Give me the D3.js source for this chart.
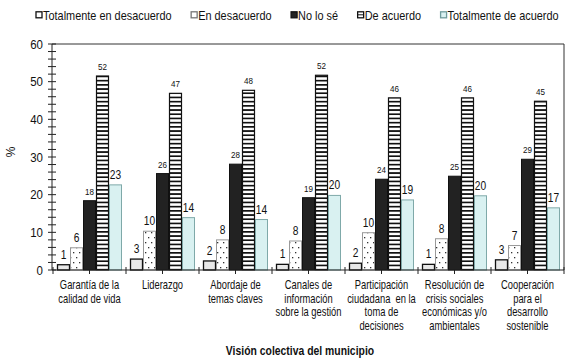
<!DOCTYPE html>
<html><head><meta charset="utf-8">
<script src="https://cdn.jsdelivr.net/npm/d3@7"></script>
<style>
body{margin:0;background:#fff;}
svg text{font-family:"Liberation Sans",Arial,sans-serif;fill:#111;white-space:pre;}
</style></head>
<body><svg id="c" width="580" height="364"></svg>
<script>
const categories = [
  ["Garantía de la","calidad de vida"],
  ["Liderazgo"],
  ["Abordaje de","temas claves"],
  ["Canales de","información","sobre la gestión"],
  ["Participación","ciudadana  en la","toma de","decisiones"],
  ["Resolución de","crisis sociales","económicas y/o","ambientales"],
  ["Cooperación","para el","desarrollo","sostenible"]
];
const seriesNames = ["Totalmente en desacuerdo","En desacuerdo","No lo sé","De acuerdo","Totalmente de acuerdo"];
const totDesacuerdo = [1.4, 2.9, 2.4, 1.5, 1.8, 1.5, 2.7];
const enDesacuerdo  = [5.9, 10.3, 8.0, 7.7, 9.9, 8.3, 6.5];
const noLoSe        = [18.4, 25.6, 28.1, 19.2, 24.1, 24.9, 29.4];
const deAcuerdo     = [51.5, 46.9, 47.7, 51.7, 45.7, 45.7, 44.8];
const totAcuerdo    = [22.6, 13.9, 13.4, 19.8, 18.6, 19.7, 16.5];
const labelsTotDes  = [1, 3, 2, 1, 2, 1, 3];
const labelsEnDes   = [6, 10, 8, 8, 10, 8, 7];
const labelsNoSe    = [18, 26, 28, 19, 24, 25, 29];
const labelsDeAc    = [52, 47, 48, 52, 46, 46, 45];
const labelsTotAc   = [23, 14, 14, 20, 19, 20, 17];
const yTicks = [0, 10, 20, 30, 40, 50, 60];
const xTitle = "Visión colectiva del municipio";
const yTitle = "%";

const series = [totDesacuerdo, enDesacuerdo, noLoSe, deAcuerdo, totAcuerdo];
const labels = [labelsTotDes, labelsEnDes, labelsNoSe, labelsDeAc, labelsTotAc];

const svg = d3.select("#c");
const defs = svg.append("defs");
const pd = defs.append("pattern").attr("id","dots").attr("patternUnits","userSpaceOnUse")
  .attr("width",6).attr("height",10);
pd.append("rect").attr("width",6).attr("height",10).attr("fill","#fff");
pd.append("rect").attr("x",1).attr("y",2).attr("width",1.3).attr("height",1.3).attr("fill","#333");
pd.append("rect").attr("x",4).attr("y",7).attr("width",1.3).attr("height",1.3).attr("fill","#333");
const ps = defs.append("pattern").attr("id","stripes").attr("patternUnits","userSpaceOnUse")
  .attr("width",8).attr("height",4.2);
ps.append("rect").attr("width",8).attr("height",4.2).attr("fill","#fff");
ps.append("rect").attr("y",0).attr("width",8).attr("height",1.7).attr("fill","#111");

const styles = [
  {fill:"#e8e8e8", stroke:"#111", sw:1.3},
  {fill:"url(#dots)", stroke:"#999", sw:1},
  {fill:"#222", stroke:"#111", sw:1},
  {fill:"url(#stripes)", stroke:"#111", sw:1.2},
  {fill:"#d9f1f1", stroke:"#7fa9a9", sw:1}
];
const labelSize = [12, 12, 9.5, 9.5, 12];

const pL = 53, pR = 564, pT = 44, pB = 270;
const y = d3.scaleLinear().domain([0,60]).range([pB, pT]);
const x = d3.scaleBand().domain(d3.range(categories.length)).range([pL, pR]).padding(0);
const xs = d3.scaleBand().domain(d3.range(series.length)).range([4, x.bandwidth()-4]).padding(0);

const tr = (tx, ty, s) => `translate(${tx},${ty}) scale(${s},1)`;

svg.append("line").attr("x1",pL-1).attr("x2",pR).attr("y1",pT).attr("y2",pT).attr("stroke","#333");
svg.append("line").attr("x1",pR).attr("x2",pR).attr("y1",pT).attr("y2",pB).attr("stroke","#333");

series.forEach((vals, s) => {
  const g = svg.append("g");
  g.selectAll("rect").data(vals).join("rect")
    .attr("x",(d,i)=>x(i)+xs(s)+0.5)
    .attr("y",d=>y(d))
    .attr("width",xs.bandwidth()-1)
    .attr("height",d=>pB-y(d))
    .attr("fill",styles[s].fill).attr("stroke",styles[s].stroke).attr("stroke-width",styles[s].sw);
  g.selectAll("text").data(vals).join("text")
    .attr("transform",(d,i)=>tr(x(i)+xs(s)+xs.bandwidth()/2, y(d)-6, 0.85))
    .attr("text-anchor","middle")
    .attr("font-size",labelSize[s])
    .text((d,i)=>labels[s][i]);
});

const yAxis = svg.append("g").attr("transform",`translate(${pL-1},0)`);
yAxis.append("line").attr("y1",pT).attr("y2",pB).attr("stroke","#222");
yAxis.selectAll("line.minor").data(d3.range(0,61,2)).join("line").attr("class","minor")
  .attr("x1",-4).attr("x2",4).attr("y1",d=>y(d)).attr("y2",d=>y(d)).attr("stroke","#222");
yAxis.selectAll("text").data(yTicks).join("text")
  .attr("transform",d=>tr(-9, y(d)+4.7, 0.85)).attr("text-anchor","end").attr("font-size",13.5).text(d=>d);

const xAxis = svg.append("g");
xAxis.append("line").attr("x1",pL-1).attr("x2",pR).attr("y1",pB).attr("y2",pB).attr("stroke","#222");
xAxis.selectAll("line.b").data(d3.range(categories.length+1)).join("line").attr("class","b")
  .attr("x1",d=>pL+d*x.bandwidth()).attr("x2",d=>pL+d*x.bandwidth())
  .attr("y1",pB-3).attr("y2",pB+4).attr("stroke","#222");
xAxis.selectAll("line.c").data(d3.range(categories.length)).join("line").attr("class","c")
  .attr("x1",d=>x(d)+x.bandwidth()/2).attr("x2",d=>x(d)+x.bandwidth()/2)
  .attr("y1",pB).attr("y2",pB+4).attr("stroke","#222");
const cl = xAxis.selectAll("text").data(categories).join("text")
  .attr("text-anchor","middle").attr("font-size",12)
  .attr("transform",(d,i)=>tr(x(i)+x.bandwidth()/2, pB+19, 0.78));
cl.selectAll("tspan").data(d=>d).join("tspan").attr("x",0).attr("dy",(d,j)=>j===0?0:13.6).text(d=>d);

svg.append("text").attr("transform",tr(300,355,0.8)).attr("text-anchor","middle")
  .attr("font-size",13).attr("font-weight","bold").text(xTitle);
svg.append("text").attr("transform","translate(15,152) rotate(-90)").attr("text-anchor","middle")
  .attr("font-size",12).text(yTitle);

const lg = svg.append("g");
let lx = 36;
seriesNames.forEach((n,s) => {
  lg.append("rect").attr("x",lx).attr("y",11.8).attr("width",6).attr("height",6)
    .attr("fill", s===2 ? "#222" : s===4 ? "#d9f1f1" : "#fff")
    .attr("stroke", s===1 ? "#777" : s===4 ? "#6f9c9c" : "#111").attr("stroke-width",1.3);
  if (s===3) lg.append("line").attr("x1",lx).attr("x2",lx+6).attr("y1",14.8).attr("y2",14.8).attr("stroke","#111");
  const t = lg.append("text").attr("transform",tr(lx+7,19.5,0.84)).attr("font-size",13).text(n);
  lx += 7 + t.node().getComputedTextLength()*0.84 + 19.5;
});
</script></body></html>
